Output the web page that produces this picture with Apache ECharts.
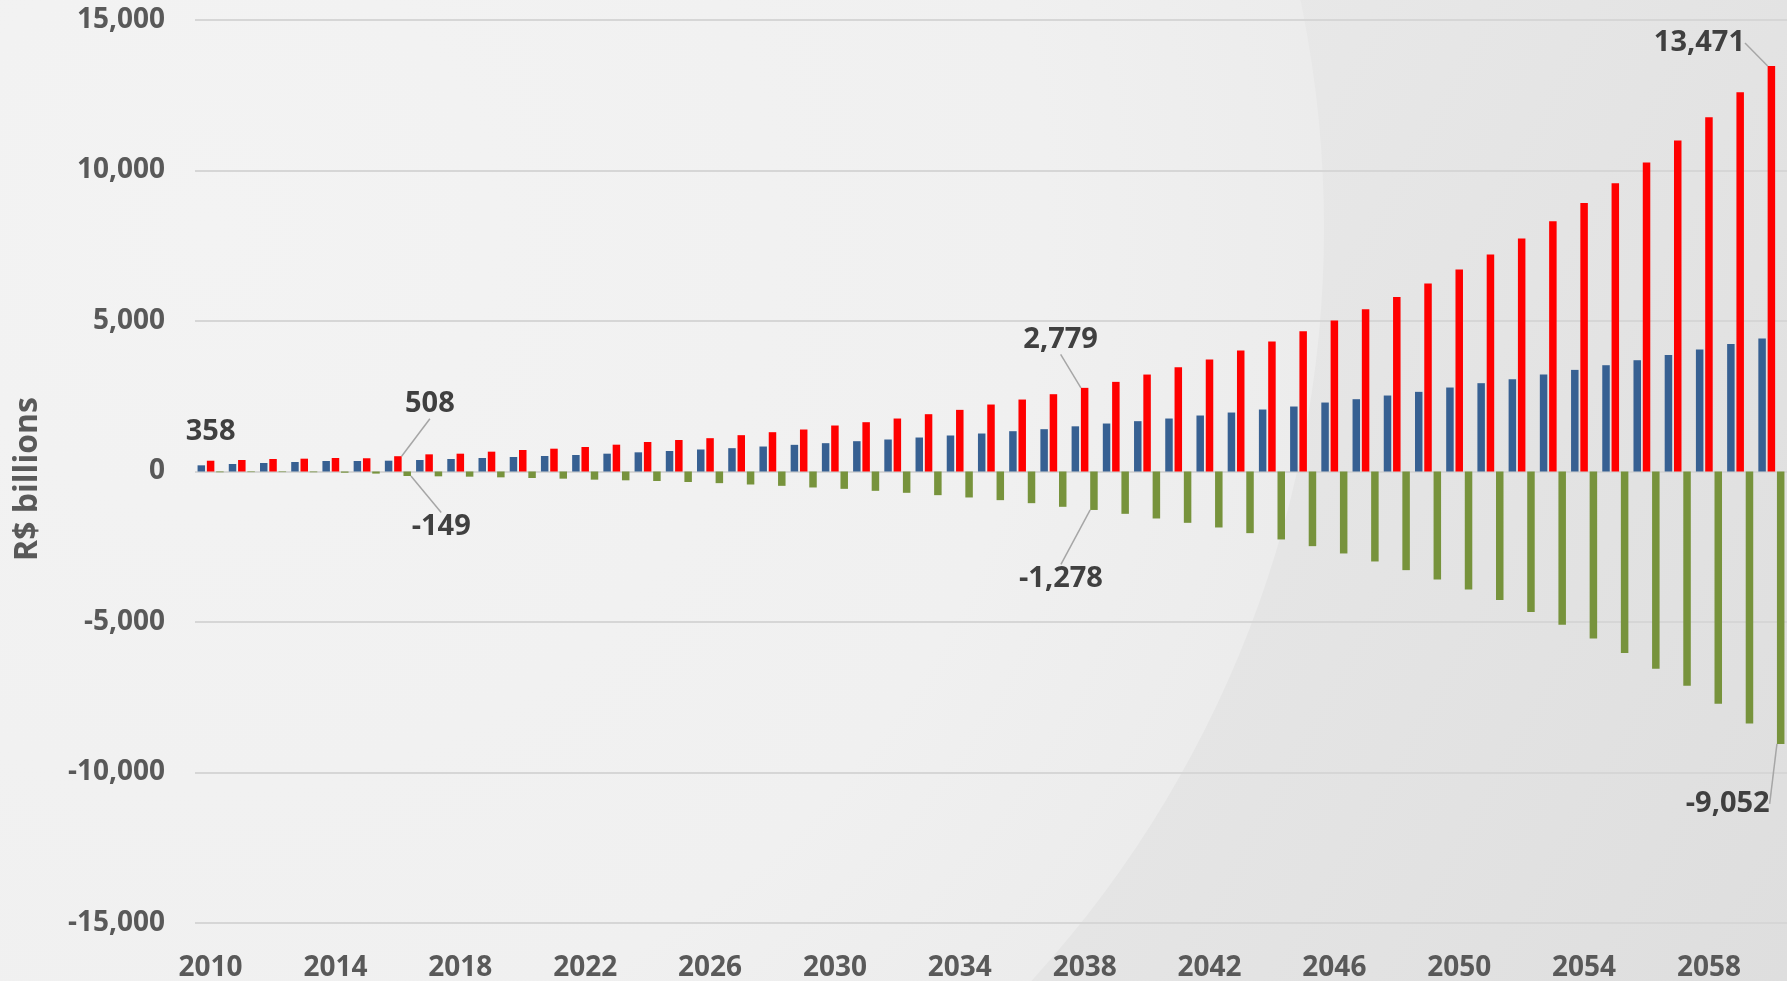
<!DOCTYPE html>
<html>
<head>
<meta charset="utf-8">
<title>R$ billions, 2010–2060</title>
<script src="https://cdn.jsdelivr.net/npm/echarts@6/dist/echarts.min.js"></script>
<style>
  html, body { margin: 0; padding: 0; width: 100%; height: 100%; overflow: hidden; }
  #chart { width: 1787px; height: 981px; }
</style>
</head>
<body>
<div id="chart"></div>
<script>
// Years on the category axis
const years = [];
for (let y = 2010; y <= 2060; y++) years.push(String(y));

// Blue series (R$ billions)
const blueValues = [
  205, 249, 282, 316, 349, 349, 359, 382, 415, 448,
  482, 515, 548, 592, 637, 681, 731, 775, 830, 886,
  941, 1007, 1063, 1129, 1196, 1262, 1339, 1406, 1501, 1594,
  1672, 1760, 1860, 1959, 2059, 2159, 2291, 2402, 2524, 2646,
  2790, 2934, 3066, 3221, 3376, 3531, 3697, 3874, 4052, 4240,
  4419
];

// Red series (R$ billions)
const redValues = [
  358, 382, 415, 426, 448, 440, 508, 570, 592, 659,
  714, 758, 814, 891, 980, 1046, 1107, 1207, 1306, 1395,
  1528, 1638, 1760, 1904, 2048, 2225, 2391, 2568, 2779, 2978,
  3221, 3465, 3720, 4018, 4317, 4660, 5015, 5391, 5801, 6243,
  6708, 7207, 7738, 8314, 8922, 9576, 10262, 10993, 11767, 12598,
  13471
];

// Green series (R$ billions)
const greenValues = [
  -25, -20, -20, -25, -40, -70, -149, -160, -172, -194,
  -216, -238, -271, -293, -316, -349, -387, -432, -476, -531,
  -576, -642, -708, -786, -863, -952, -1052, -1173, -1278, -1406,
  -1561, -1705, -1860, -2048, -2258, -2480, -2723, -2989, -3277, -3587,
  -3919, -4273, -4671, -5092, -5546, -6033, -6553, -7118, -7716, -8369,
  -9052
];

// Value axis ticks
const yTicks = [-15000, -10000, -5000, 0, 5000, 10000, 15000];

// Years whose values are called out
const redCallouts = ['2016', '2038', '2060'];
const greenCallouts = ['2016', '2038', '2060'];
const redPlainLabel = ['2010'];

// Callout placement: offset of the label centre from the bar's outer end
const calloutOffset = {
  'red-2016': [32, -52],
  'red-2038': [-24, -48],
  'red-2060': [-72, -23],
  'green-2016': [34, 51],
  'green-2038': [-33, 69],
  'green-2060': [-53, 60]
};

const fmt = v => {
  const s = Math.abs(v).toString().replace(/\B(?=(\d{3})+(?!\d))/g, ',');
  return v < 0 ? '-' + s : s;
};

const labelFont = {
  fontFamily: 'Open Sans', fontWeight: 'bold', fontSize: 29, color: '#404040'
};
const tickFont = {
  fontFamily: 'Open Sans', fontWeight: 'bold', fontSize: 28, color: '#595959'
};
const leader = { show: true, length2: 0, lineStyle: { color: '#a6a6a6', width: 1.5 } };

function buildData(values, key, callouts, plain) {
  return values.map((v, i) => {
    const yr = years[i];
    if (callouts.indexOf(yr) >= 0) {
      return { value: v, label: { show: true }, labelLine: leader };
    }
    if (plain && plain.indexOf(yr) >= 0) {
      return { value: v, label: { show: true, position: 'top', distance: 14 } };
    }
    return v;
  });
}

function layoutFor(key, values) {
  return function (params) {
    const yr = years[params.dataIndex];
    const off = calloutOffset[key + '-' + yr];
    if (!off) return {};
    const r = params.rect;
    const cx = r.x + r.width / 2;
    const endY = values[params.dataIndex] >= 0 ? r.y : r.y + r.height;
    return { x: cx + off[0], y: endY + off[1], align: 'center', verticalAlign: 'middle' };
  };
}

const chart = echarts.init(document.getElementById('chart'), null, { renderer: 'canvas' });

const option = {
  animation: false,
  backgroundColor: {
    type: 'linear', x: 0, y: 0, x2: 1, y2: 1,
    colorStops: [
      { offset: 0, color: '#ececec' },
      { offset: 0.5, color: '#e9e9e9' },
      { offset: 1, color: '#dedede' }
    ]
  },
  graphic: [
    {
      type: 'circle', z: -100, silent: true,
      shape: { cx: 209, cy: 228, r: 1115 },
      style: {
        fill: {
          type: 'radial', x: 0.5, y: 0.5, r: 0.5,
          colorStops: [
            { offset: 0, color: '#f3f3f3' },
            { offset: 0.75, color: '#f0f0f0' },
            { offset: 1, color: '#ececec' }
          ]
        }
      }
    },
    {
      type: 'text', silent: true,
      x: 28, y: 479, rotation: Math.PI / 2,
      style: {
        text: 'R$ billions',
        align: 'center', verticalAlign: 'middle',
        font: 'bold 32px "Open Sans"', fill: '#595959'
      }
    }
  ],
  grid: { left: 195, right: 0, top: 20, bottom: 58, containLabel: false, outerBoundsMode: 'none' },
  xAxis: {
    type: 'category',
    data: years,
    axisLine: { show: false, onZero: false },
    axisTick: { show: false },
    axisLabel: { interval: 3, margin: 31, ...tickFont },
    splitLine: { show: false }
  },
  yAxis: {
    type: 'value',
    min: yTicks[0], max: yTicks[yTicks.length - 1], interval: 5000,
    axisLine: { show: false },
    axisTick: { show: false },
    axisLabel: { margin: 30, formatter: v => fmt(v), ...tickFont },
    splitLine: { show: true, lineStyle: { color: '#d6d6d6', width: 2 } }
  },
  series: [
    {
      name: 'Blue', type: 'bar',
      data: blueValues,
      barWidth: 7.5, barGap: '24%',
      itemStyle: { color: '#376092' }
    },
    {
      name: 'Red', type: 'bar',
      data: buildData(redValues, 'red', redCallouts, redPlainLabel),
      barWidth: 7.5, barGap: '24%',
      itemStyle: { color: '#ff0000' },
      label: { show: false, position: 'top', formatter: p => fmt(p.value), ...labelFont },
      labelLayout: layoutFor('red', redValues)
    },
    {
      name: 'Green', type: 'bar',
      data: buildData(greenValues, 'green', greenCallouts, null),
      barWidth: 7.5, barGap: '24%',
      itemStyle: { color: '#77933c' },
      label: { show: false, position: 'bottom', formatter: p => fmt(p.value), ...labelFont },
      labelLayout: layoutFor('green', greenValues)
    }
  ]
};

chart.setOption(option);
</script>
</body>
</html>
